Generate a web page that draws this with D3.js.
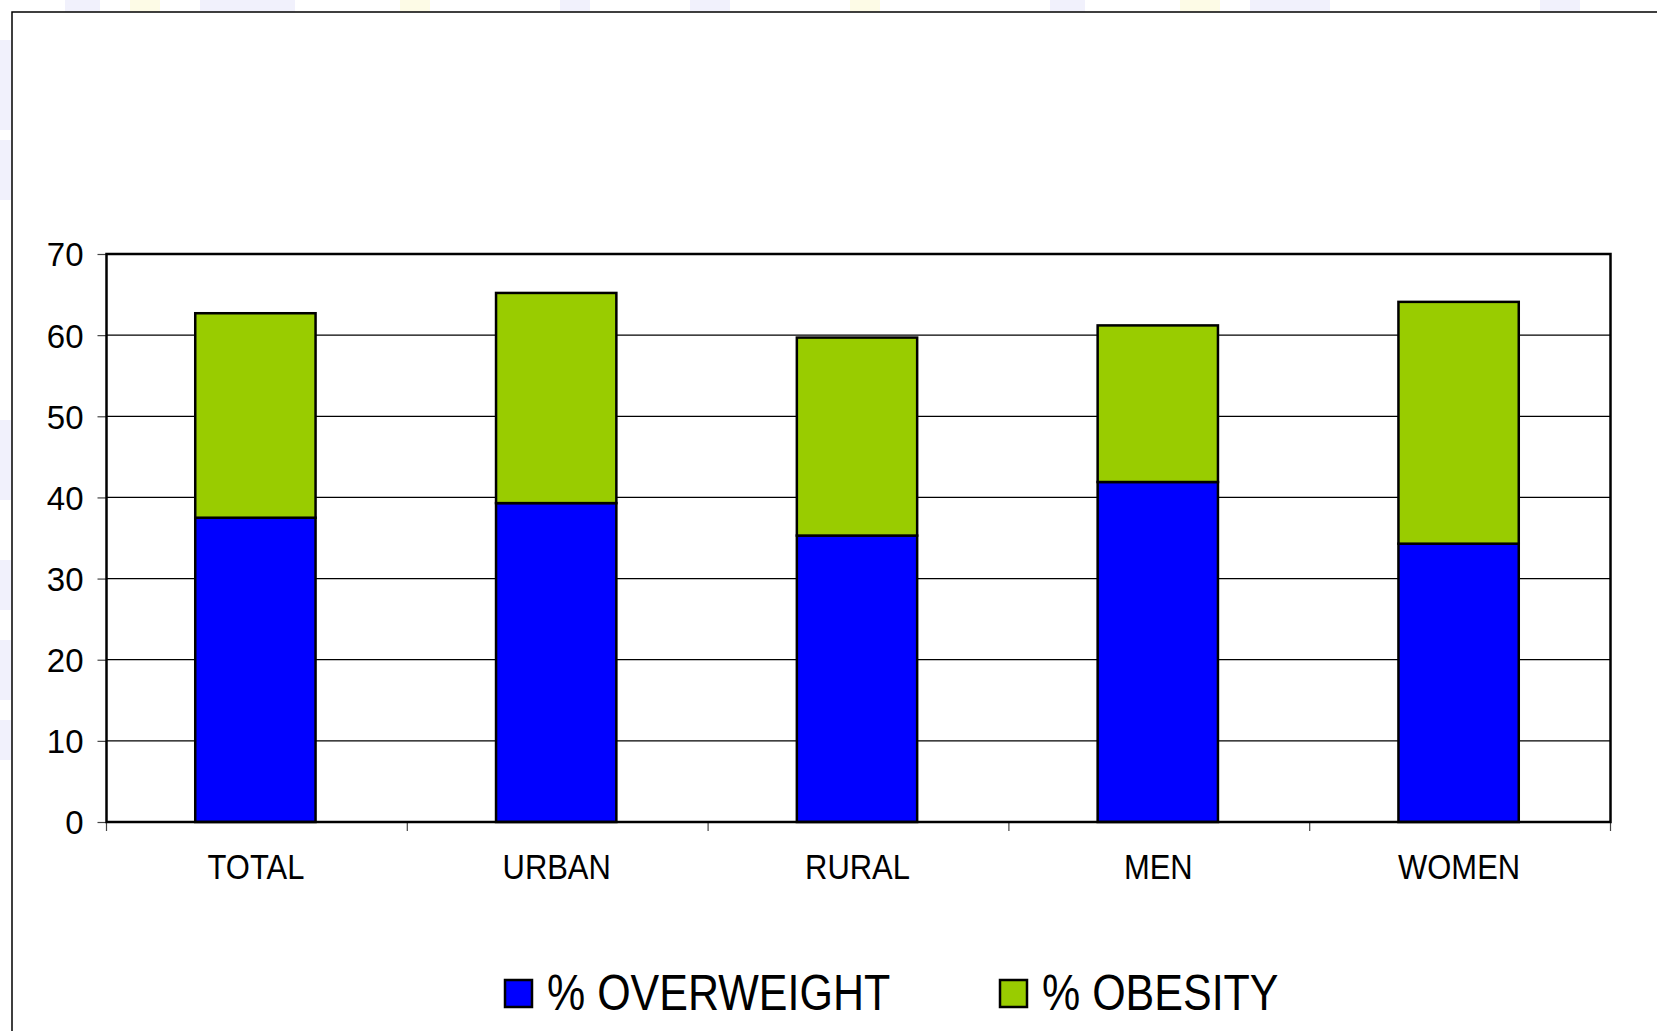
<!DOCTYPE html>
<html>
<head>
<meta charset="utf-8">
<script src="https://cdn.jsdelivr.net/npm/d3@7"></script>
<style>
  html, body { margin: 0; padding: 0; background: #fff; }
  svg { display: block; }
  text { font-family: "Liberation Sans", Arial, sans-serif; fill: #000; }
</style>
</head>
<body>
<svg id="chart" width="1657" height="1031"></svg>
<script>
const categories = ["TOTAL", "URBAN", "RURAL", "MEN", "WOMEN"];
const overweight = [37.5, 39.3, 35.3, 41.9, 34.3];
const obesity = [25.2, 25.9, 24.4, 19.3, 29.8];
const seriesNames = ["% OVERWEIGHT", "% OBESITY"];
const seriesColors = ["#0000ff", "#99cc00"];
const yTicks = [0, 10, 20, 30, 40, 50, 60, 70];

const svg = d3.select("#chart");
const W = 1657, H = 1031;
const plot = { left: 106.5, right: 1610.5, top: 254, bottom: 822 };

// faint slide background decoration in margins
const bg = svg.append("g");
[[0, 40, 12, 90], [0, 140, 12, 60], [0, 420, 12, 80], [0, 560, 12, 50], [0, 640, 12, 60], [0, 720, 12, 40]].forEach(r =>
  bg.append("rect").attr("x", r[0]).attr("y", r[1]).attr("width", r[2]).attr("height", r[3]).attr("fill", "#f1f1fc"));
[[65, 0, 35, 12], [200, 0, 95, 12], [560, 0, 30, 12], [690, 0, 40, 12], [1050, 0, 35, 12], [1250, 0, 80, 12], [1540, 0, 40, 12]].forEach(r =>
  bg.append("rect").attr("x", r[0]).attr("y", r[1]).attr("width", r[2]).attr("height", r[3]).attr("fill", "#f1f1fc"));
[[130, 0, 30, 12], [400, 0, 30, 12], [850, 0, 30, 12], [1180, 0, 40, 12]].forEach(r =>
  bg.append("rect").attr("x", r[0]).attr("y", r[1]).attr("width", r[2]).attr("height", r[3]).attr("fill", "#fdfbe6"));

// outer chart border
svg.append("rect").attr("x", 12).attr("y", 12).attr("width", W + 20).attr("height", H + 20)
  .attr("fill", "#fff").attr("stroke", "#000").attr("stroke-width", 1.5);

const x = d3.scaleBand().domain(categories).range([plot.left - 1.5, plot.right - 1.5])
  .paddingInner(0.6).paddingOuter(0.3);
const xCat = d3.scaleBand().domain(categories).range([plot.left, plot.right]);
const y = d3.scaleLinear().domain([0, 70]).range([plot.bottom, plot.top]);

// gridlines
svg.append("g").selectAll("line").data(yTicks.slice(1, -1)).join("line")
  .attr("x1", plot.left).attr("x2", plot.right)
  .attr("y1", d => y(d)).attr("y2", d => y(d))
  .attr("stroke", "#000").attr("stroke-width", 1.2);

// y axis ticks + labels
const yAxis = d3.axisLeft(y).tickValues(yTicks).tickSize(9).tickPadding(14).tickFormat(d3.format("d"));
const gy = svg.append("g").attr("transform", `translate(${plot.left},0)`).call(yAxis);
gy.select(".domain").remove();
gy.selectAll(".tick line").attr("stroke", "#444").attr("stroke-width", 1.2);
gy.selectAll(".tick text")
  .style("font-family", "'Liberation Sans', Arial, sans-serif")
  .attr("font-size", 33).attr("fill", "#000").attr("dy", "0.36em");

// x axis ticks at category boundaries
const bounds = categories.map(c => xCat(c)).concat([plot.right]);
svg.append("g").selectAll("line").data(bounds).join("line")
  .attr("x1", d => d).attr("x2", d => d)
  .attr("y1", plot.bottom).attr("y2", plot.bottom + 9)
  .attr("stroke", "#444").attr("stroke-width", 1.2);

// x labels
svg.append("g").selectAll("text").data(categories).join("text")
  .attr("transform", d => `translate(${xCat(d) + xCat.bandwidth() / 2 - 1},879) scale(0.86,1)`)
  .attr("text-anchor", "middle")
  .attr("font-size", 36)
  .text(d => d);

// stacked bars
const rows = categories.map((c, i) => ({ cat: c, overweight: overweight[i], obesity: obesity[i] }));
const stack = d3.stack().keys(["overweight", "obesity"])(rows);
svg.append("g").selectAll("g").data(stack).join("g")
  .attr("fill", (d, i) => seriesColors[i])
  .selectAll("rect").data(d => d).join("rect")
  .attr("x", d => x(d.data.cat))
  .attr("width", x.bandwidth())
  .attr("y", d => y(d[1]))
  .attr("height", d => y(d[0]) - y(d[1]))
  .attr("stroke", "#000").attr("stroke-width", 2.5);

// plot frame
svg.append("rect").attr("x", plot.left).attr("y", plot.top)
  .attr("width", plot.right - plot.left).attr("height", plot.bottom - plot.top)
  .attr("fill", "none").attr("stroke", "#000").attr("stroke-width", 2.5);

// legend
const legendX = [505, 1000];
const lg = svg.append("g").selectAll("g").data(seriesNames).join("g")
  .attr("transform", (d, i) => `translate(${legendX[i]},980)`);
lg.append("rect").attr("x", 0).attr("y", 0).attr("width", 27).attr("height", 27)
  .attr("fill", (d, i) => seriesColors[i]).attr("stroke", "#000").attr("stroke-width", 2.5);
lg.append("text")
  .attr("transform", "translate(42,30) scale(0.86,1)")
  .attr("font-size", 50)
  .text(d => d);
</script>
</body>
</html>
